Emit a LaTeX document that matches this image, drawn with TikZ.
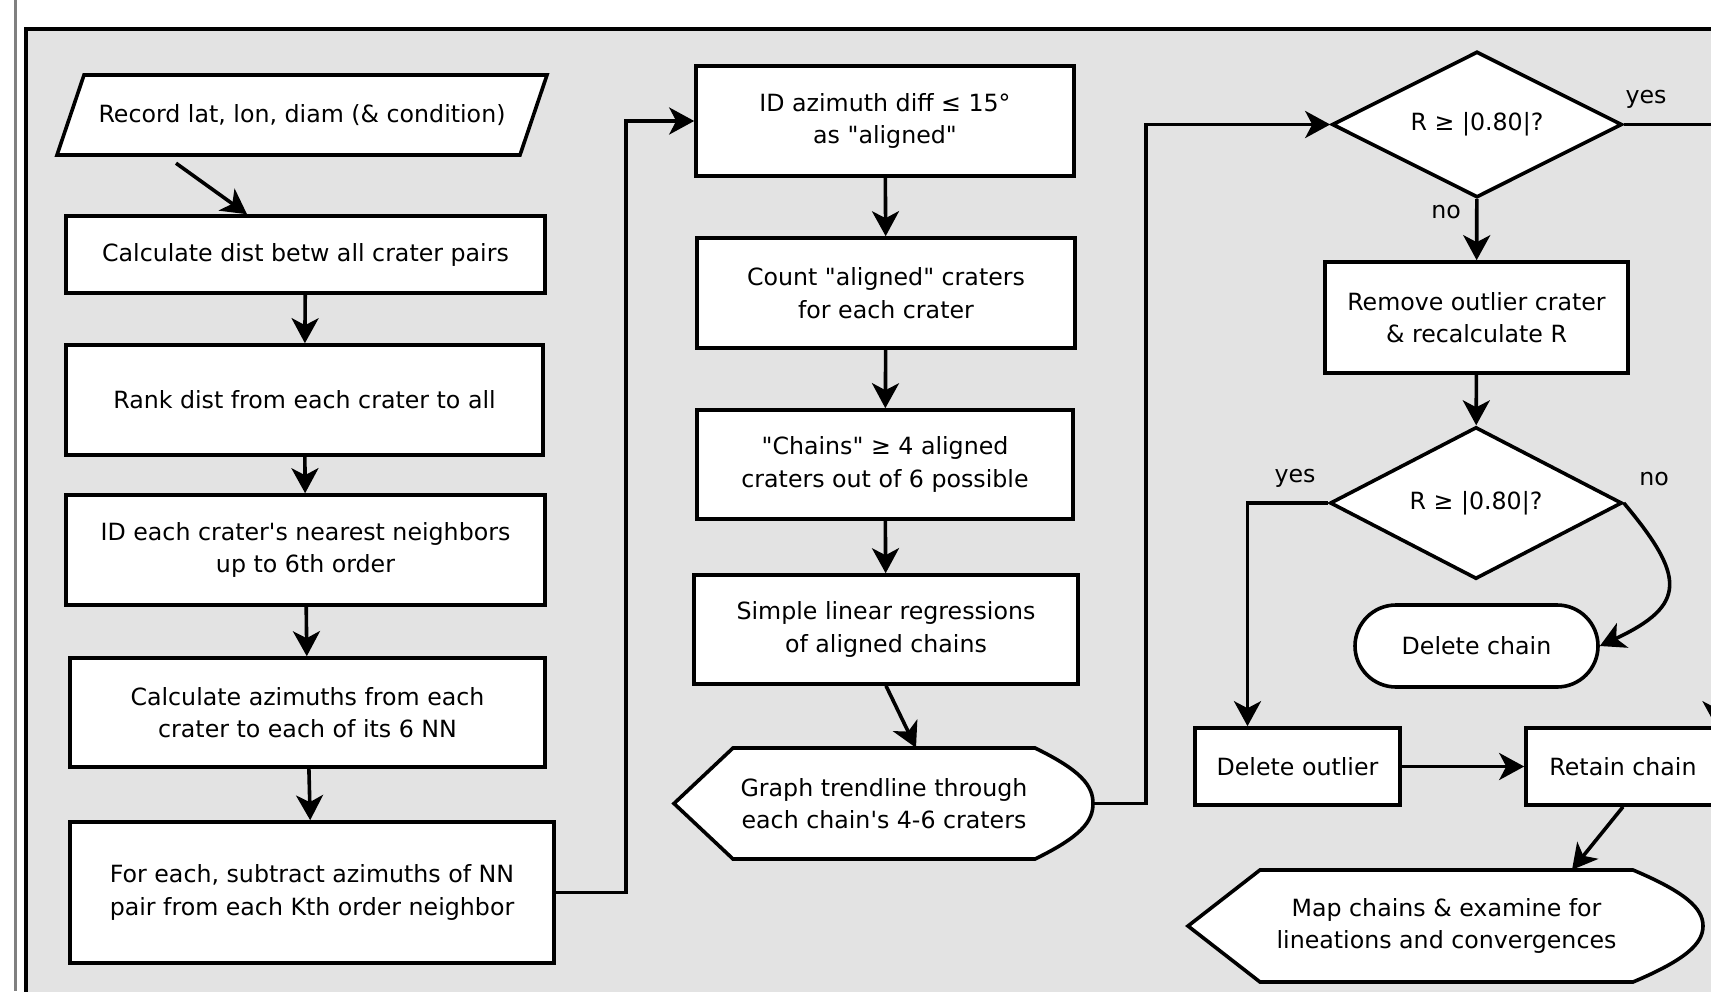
\documentclass[tikz,border=0pt]{standalone}
\usepackage{fontspec}
\newfontfamily\flowfont{DejaVu Sans}
\usepackage{tikz}
\usetikzlibrary{shapes.geometric,arrows.meta}
\definecolor{panelgray}{RGB}{227,227,227}

\begin{document}
\begin{tikzpicture}[x=1pt,y=-1pt,
every node/.style={font=\flowfont\fontsize{23.7pt}{32.5pt}\selectfont, align=center},
box/.style={draw, fill=white, line width=3.6pt, rectangle},
shp/.style={draw, fill=white, line width=3.6pt},
dia/.style={draw, fill=white, line width=3.6pt, diamond, aspect=2, inner sep=0pt},
arr/.style={-{Stealth[length=25pt,width=27pt,inset=7pt]}, line width=3.6pt},
lbl/.style={anchor=base}]
\clip (0,0) rectangle (1711,991);
\draw[line width=2.5pt, gray] (15.5,0) -- (15.5,991);
\draw[line width=4pt, fill=panelgray] (25.5,28.5) rectangle (1740,1020);

\draw[shp] (57,155) -- (84,75) -- (547,75) -- (520,155) -- cycle;
\node[minimum width=436pt, minimum height=80pt] (rec) at (302,115) {Record lat, lon, diam (\& condition)};
\node[box, minimum width=479pt, minimum height=77pt] (b1) at (305.5,254.5) {Calculate dist betw all crater pairs};
\node[box, minimum width=477pt, minimum height=110pt] (b2) at (304.5,400) {Rank dist from each crater to all};
\node[box, minimum width=479pt, minimum height=110pt] (b3) at (305.5,550) {ID each crater's nearest neighbors\\up to 6th order};
\node[box, minimum width=475pt, minimum height=109pt] (b4) at (307.5,712.5) {Calculate azimuths from each\\crater to each of its 6 NN};
\node[box, minimum width=484pt, minimum height=141pt] (b5) at (312,892.5) {For each, subtract azimuths of NN\\pair from each Kth order neighbor};

\node[box, minimum width=378pt, minimum height=110pt] (b6) at (885,121) {ID azimuth diff ≤ 15°\\as "aligned"};
\node[box, minimum width=378pt, minimum height=110pt] (b7) at (886,293) {Count "aligned" craters\\for each crater};
\node[box, minimum width=376pt, minimum height=109pt] (b8) at (885,464.5) {"Chains" ≥ 4 aligned\\craters out of 6 possible};
\node[box, minimum width=384pt, minimum height=109pt] (b9) at (886,629.5) {Simple linear regressions\\of aligned chains};
\draw[shp] (733,748) -- (1035,748) .. controls (1080,770) and (1093,785) .. (1093,803.5) .. controls (1093,822) and (1080,837) .. (1035,859) -- (733,859) -- (674,803.5) -- cycle;
\node[minimum width=302pt, minimum height=111pt] (gr) at (884,803.5) {Graph trendline through\\each chain's 4-6 craters};

\node[dia, minimum width=290pt, minimum height=146pt] (dia1) at (1477,124.5) {R ≥ |0.80|?};
\node[box, minimum width=303pt, minimum height=111pt] (b10) at (1476.5,317.5) {Remove outlier crater\\\& recalculate R};
\node[dia, minimum width=292pt, minimum height=152pt] (dia2) at (1476,503) {R ≥ |0.80|?};
\node[box, rounded corners=41pt, minimum width=243pt, minimum height=82pt] (delc) at (1476.5,646) {Delete chain};
\node[box, minimum width=205pt, minimum height=77pt] (delo) at (1297.5,766.5) {Delete outlier};
\node[box, minimum width=194pt, minimum height=77pt] (ret) at (1623,766.5) {Retain chain};
\draw[shp] (1260,870) -- (1633,870) .. controls (1685,892) and (1703,908) .. (1703,926) .. controls (1703,944) and (1685,960) .. (1633,982) -- (1260,982) -- (1188,926) -- cycle;
\node[minimum width=373pt, minimum height=112pt] (map) at (1446.5,926) {Map chains \& examine for\\lineations and convergences};

\node[lbl] (yes1) at (1646,103) {yes};
\node[lbl] (no1) at (1446,218) {no};
\node[lbl] (yes2) at (1295,482) {yes};
\node[lbl] (no2) at (1654,485) {no};

\draw[arr] ([xshift=-126pt,yshift=-8pt]rec.south) -- ([xshift=-58.5pt]b1.north);
\draw[arr] (b1) -- (b2);
\draw[arr] (b2) -- (b3);
\draw[arr] (b3) -- (b4);
\draw[arr] (b4) -- (b5);
\draw[arr] (b5.east) -- ++(70,0) |- (b6.west);
\draw[arr] (b6) -- (b7);
\draw[arr] (b7) -- (b8);
\draw[arr] (b8) -- (b9);
\draw[arr] (b9.south) -- ([xshift=32pt]gr.north);
\draw[arr] ([xshift=58pt]gr.east) -- ++(53,0) |- (dia1.west);
\coordinate (yesturn) at (1716,124.5);
\draw[arr] (dia1.east) -- (yesturn) -- (yesturn |- ret.north);
\draw[arr] (dia1) -- (b10);
\draw[arr] (b10) -- (dia2);
\draw[arr] (dia2.west) -| ([xshift=-50pt]delo.north);
\draw[arr] (dia2.east) to[out=-50, in=25, looseness=1.7] (delc.east);
\draw[arr] (delo) -- (ret);
\draw[arr] (ret.south) -- ([xshift=125.5pt]map.north);
\end{tikzpicture}
\end{document}
